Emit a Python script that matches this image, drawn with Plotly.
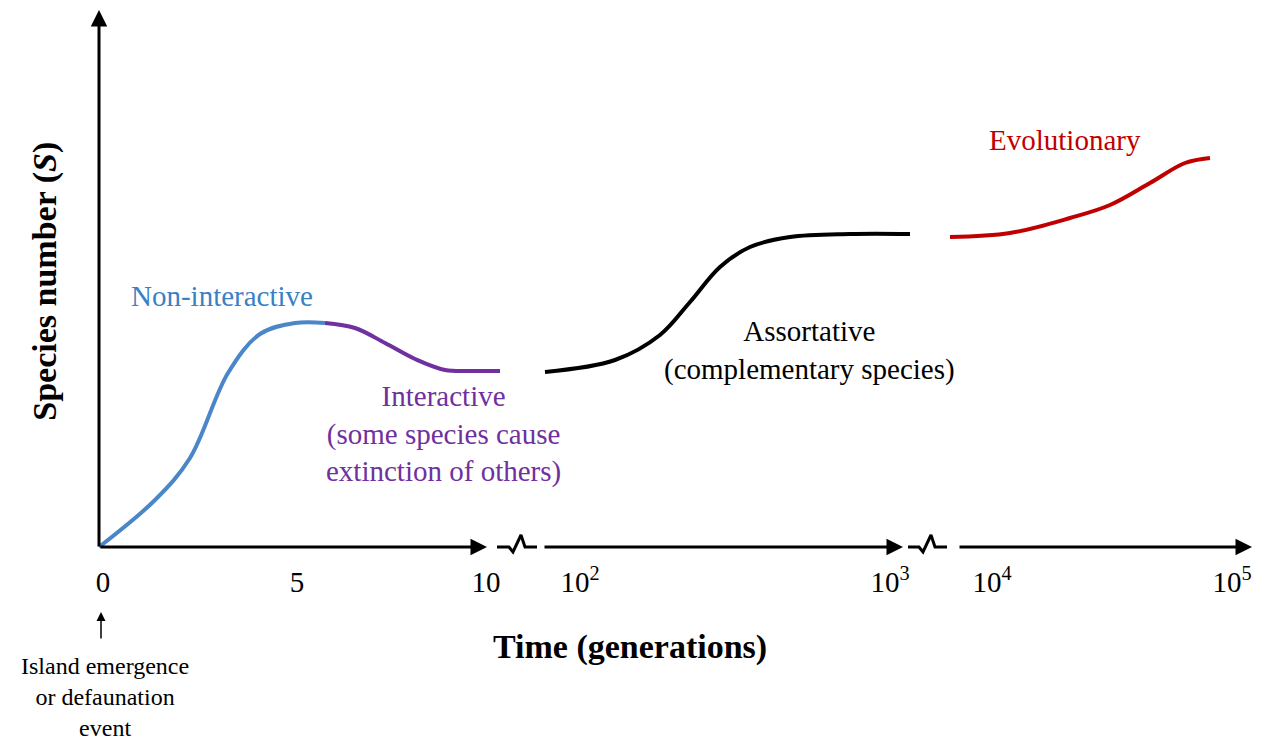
"""Schematic of species number through time on an island: non-interactive,
interactive, assortative and evolutionary phases on a broken time axis."""

import plotly.graph_objects as go

FONT = "Liberation Serif"
BLUE = "#4A86C8"
PURPLE = "#7030A0"
RED = "#C00000"
BLACK = "#000000"

# curve anchor points in diagram units (x: position along broken time axis, y: S)
blue_x = [0, 56, 91, 129, 161, 196, 226]
blue_y = [0, 47, 89, 174, 213, 224, 224]

purple_x = [226, 256, 286, 316, 346, 376, 401]
purple_y = [224, 219, 204, 188, 177, 176, 176]

black_x = [446, 516, 561, 591, 621, 651, 691, 751, 811]
black_y = [175, 187, 212, 245, 280, 300, 310, 313, 313]

red_x = [851, 911, 971, 1011, 1051, 1086, 1111]
red_y = [310, 314, 329, 342, 364, 384, 389]

# axis-break squiggles
break1_x = [398, 410, 414, 422, 426, 438]
break2_x = [809, 820, 824, 832, 836, 848]
break_y = [0, 0, -5, 12, 0, 0]

# axis segments: (tail_x, head_x) along y=0
axis_segments = [(0, 388), (444, 804), (859, 1153)]
y_axis_top = 537

tick_vals = [4, 198, 387, 481, 791, 893, 1133]
tick_text = ["0", "5", "10", "10<sup>2</sup>", "10<sup>3</sup>",
             "10<sup>4</sup>", "10<sup>5</sup>"]

fig = go.Figure()

for xs, ys, color in [(blue_x, blue_y, BLUE), (purple_x, purple_y, PURPLE),
                      (black_x, black_y, BLACK), (red_x, red_y, RED)]:
    fig.add_trace(go.Scatter(
        x=xs, y=ys, mode="lines",
        line=dict(color=color, width=4, shape="spline", smoothing=1.0),
        hoverinfo="skip", showlegend=False,
    ))

for bx in (break1_x, break2_x):
    fig.add_trace(go.Scatter(
        x=bx, y=break_y, mode="lines",
        line=dict(color=BLACK, width=3),
        hoverinfo="skip", showlegend=False,
    ))

annotations = []

# axis arrows
arrow_style = dict(
    xref="x", yref="y", axref="x", ayref="y",
    showarrow=True, arrowhead=2, arrowsize=1.1, arrowwidth=3,
    arrowcolor=BLACK, text="",
)
annotations.append(dict(x=0, y=y_axis_top, ax=0, ay=-1, **arrow_style))
for x0, x1 in axis_segments:
    annotations.append(dict(x=x1, y=0, ax=x0, ay=0, **arrow_style))

# phase labels
label = dict(xref="x", yref="y", showarrow=False,
             xanchor="center", yanchor="middle")
annotations += [
    dict(x=123, y=251, text="Non-interactive",
         font=dict(family=FONT, size=29, color="#3A80C6"), **label),
    dict(x=344, y=113,
         text="Interactive<br>(some species cause<br>extinction of others)",
         font=dict(family=FONT, size=29, color=PURPLE), **label),
    dict(x=710, y=197, text="Assortative<br>(complementary species)",
         font=dict(family=FONT, size=29, color=BLACK), **label),
    dict(x=966, y=407, text="Evolutionary",
         font=dict(family=FONT, size=29, color=RED), **label),
]

# axis titles and the origin note (paper coords)
note = dict(xref="paper", yref="paper", showarrow=False,
            xanchor="center", yanchor="middle")
annotations += [
    dict(x=-0.0287, y=0.506, text="Species number (<i>S</i>)", textangle=-90,
         font=dict(family=FONT, size=34, color=BLACK, weight="bold"), **note),
    dict(x=0.4658, y=-0.1534, text="Time (generations)",
         font=dict(family=FONT, size=34, color=BLACK, weight="bold"), **note),
    dict(x=0.022, y=-0.2437, text="Island emergence<br>or defaunation<br>event",
         font=dict(family=FONT, size=24, color=BLACK), **note),
    dict(x=0.0186, y=-0.0903, xref="paper", yref="paper", text="",
         showarrow=True, ax=0, ay=28, arrowhead=2, arrowsize=1.2,
         arrowwidth=1.5, arrowcolor=BLACK),
]

fig.update_layout(
    width=1254, height=734,
    paper_bgcolor="white", plot_bgcolor="white",
    margin=dict(l=71, r=0, t=0, b=180),
    showlegend=False,
    annotations=annotations,
    xaxis=dict(
        range=[-20, 1163], showgrid=False, zeroline=False, showline=False,
        tickmode="array", tickvals=tick_vals, ticktext=tick_text, ticks="",
        tickfont=dict(family=FONT, size=29, color=BLACK), fixedrange=True,
    ),
    yaxis=dict(
        range=[-15, 539], showgrid=False, zeroline=False, showline=False,
        showticklabels=False, fixedrange=True,
    ),
)

fig.write_html("out.html")
